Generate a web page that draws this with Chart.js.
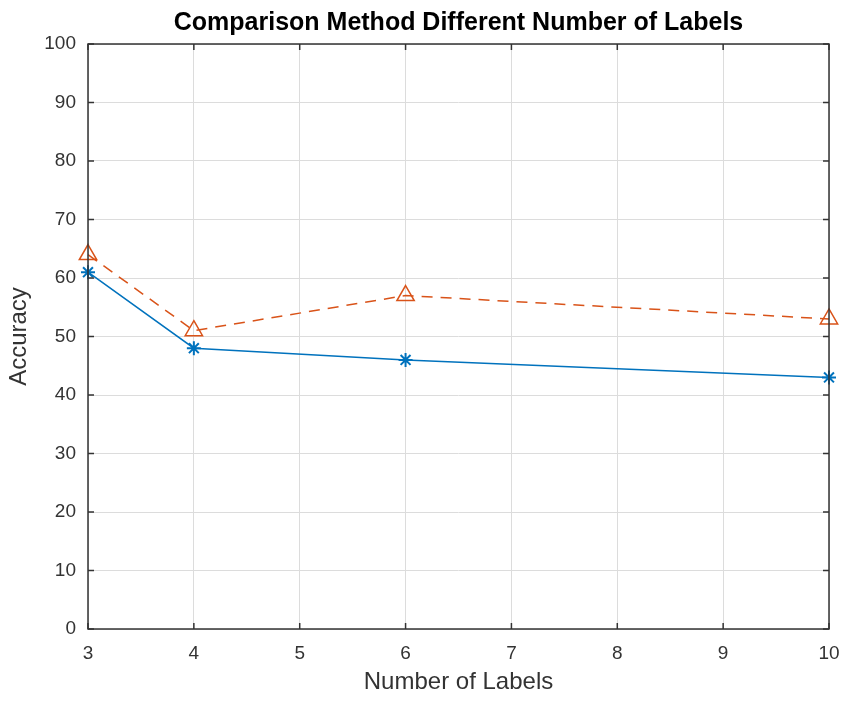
<!DOCTYPE html>
<html>
<head>
<meta charset="utf-8">
<script src="https://cdn.jsdelivr.net/npm/chart.js@4"></script>
<style>
  html, body { margin: 0; padding: 0; background: #fff; }
  #wrap { width: 845px; height: 702px; }
</style>
</head>
<body>
<div id="wrap"><canvas id="chart"></canvas></div>
<script>
// data
const numLabels = [3, 4, 6, 10];
const methodA = [61, 48, 46, 43];   // blue, solid, asterisk
const methodB = [64, 51, 57, 53];   // orange, dashed, triangle
const yTicks = [0, 10, 20, 30, 40, 50, 60, 70, 80, 90, 100];
const xTicks = [3, 4, 5, 6, 7, 8, 9, 10];
const titleText = 'Comparison Method Different Number of Labels';

const FONT = '"Liberation Sans", Arial, Helvetica, sans-serif';
const AXIS = '#333333';
const GRID = '#dcdcdc';

// box round the plot area, inward tick marks and a title centred on the axes, like matlab
const boxPlugin = {
  id: 'box',
  afterDraw(chart) {
    const { ctx, chartArea: a, scales } = chart;
    ctx.save();
    ctx.strokeStyle = AXIS;
    ctx.lineWidth = 1.5;
    ctx.strokeRect(a.left, a.top, a.right - a.left, a.bottom - a.top);
    ctx.beginPath();
    yTicks.forEach((v) => {
      const y = scales.y.getPixelForValue(v);
      ctx.moveTo(a.left, y); ctx.lineTo(a.left + 6, y);
      ctx.moveTo(a.right, y); ctx.lineTo(a.right - 6, y);
    });
    xTicks.forEach((v) => {
      const x = scales.x.getPixelForValue(v);
      ctx.moveTo(x, a.bottom); ctx.lineTo(x, a.bottom - 6);
      ctx.moveTo(x, a.top); ctx.lineTo(x, a.top + 6);
    });
    ctx.stroke();

    ctx.fillStyle = '#000';
    ctx.font = 'bold 25px ' + FONT;
    ctx.textAlign = 'center';
    ctx.textBaseline = 'middle';
    ctx.fillText(titleText, (a.left + a.right) / 2, 23);
    ctx.restore();
  },
};

new Chart(document.getElementById('chart'), {
  type: 'line',
  data: {
    datasets: [
      {
        label: 'Method A',
        data: numLabels.map((x, i) => ({ x, y: methodA[i] })),
        borderColor: '#0072BD',
        backgroundColor: '#0072BD',
        borderWidth: 1.5,
        pointStyle: 'star',
        pointRadius: 7,
        pointBorderWidth: 2,
        pointBorderColor: '#0072BD',
        tension: 0,
        clip: false,
      },
      {
        label: 'Method B',
        data: numLabels.map((x, i) => ({ x, y: methodB[i] })),
        borderColor: '#D95319',
        backgroundColor: 'rgba(0,0,0,0)',
        borderWidth: 1.5,
        borderDash: [11, 8],
        pointStyle: 'triangle',
        pointRadius: 10,
        pointBorderWidth: 1.5,
        pointBorderColor: '#D95319',
        pointBackgroundColor: 'rgba(0,0,0,0)',
        tension: 0,
        clip: false,
      },
    ],
  },
  options: {
    responsive: true,
    maintainAspectRatio: false,
    animation: false,
    layout: { padding: { left: 0, right: 16, top: 44, bottom: 0 } },
    plugins: {
      legend: { display: false },
      tooltip: { enabled: false },
      title: { display: false },
    },
    scales: {
      x: {
        type: 'linear',
        min: 3,
        max: 10,
        afterBuildTicks: (s) => { s.ticks = xTicks.map((v) => ({ value: v })); },
        ticks: { color: AXIS, font: { family: FONT, size: 19 }, padding: 13 },
        grid: { color: GRID, drawTicks: false },
        border: { display: false },
        title: {
          display: true,
          text: 'Number of Labels',
          color: AXIS,
          font: { family: FONT, size: 24 },
          padding: { top: 0, bottom: 5 },
        },
        afterFit: (s) => { s.height = 73; s.paddingLeft = 0; s.paddingRight = 0; },
      },
      y: {
        min: 0,
        max: 100,
        afterBuildTicks: (s) => { s.ticks = yTicks.map((v) => ({ value: v })); },
        ticks: { color: AXIS, font: { family: FONT, size: 19 }, padding: 12 },
        grid: { color: GRID, drawTicks: false },
        border: { display: false },
        title: {
          display: true,
          text: 'Accuracy',
          color: AXIS,
          font: { family: FONT, size: 24 },
          padding: { top: 5, bottom: 0 },
        },
        afterFit: (s) => { s.width = 88; s.paddingTop = 0; s.paddingBottom = 0; },
      },
    },
  },
  plugins: [boxPlugin],
});
</script>
</body>
</html>
